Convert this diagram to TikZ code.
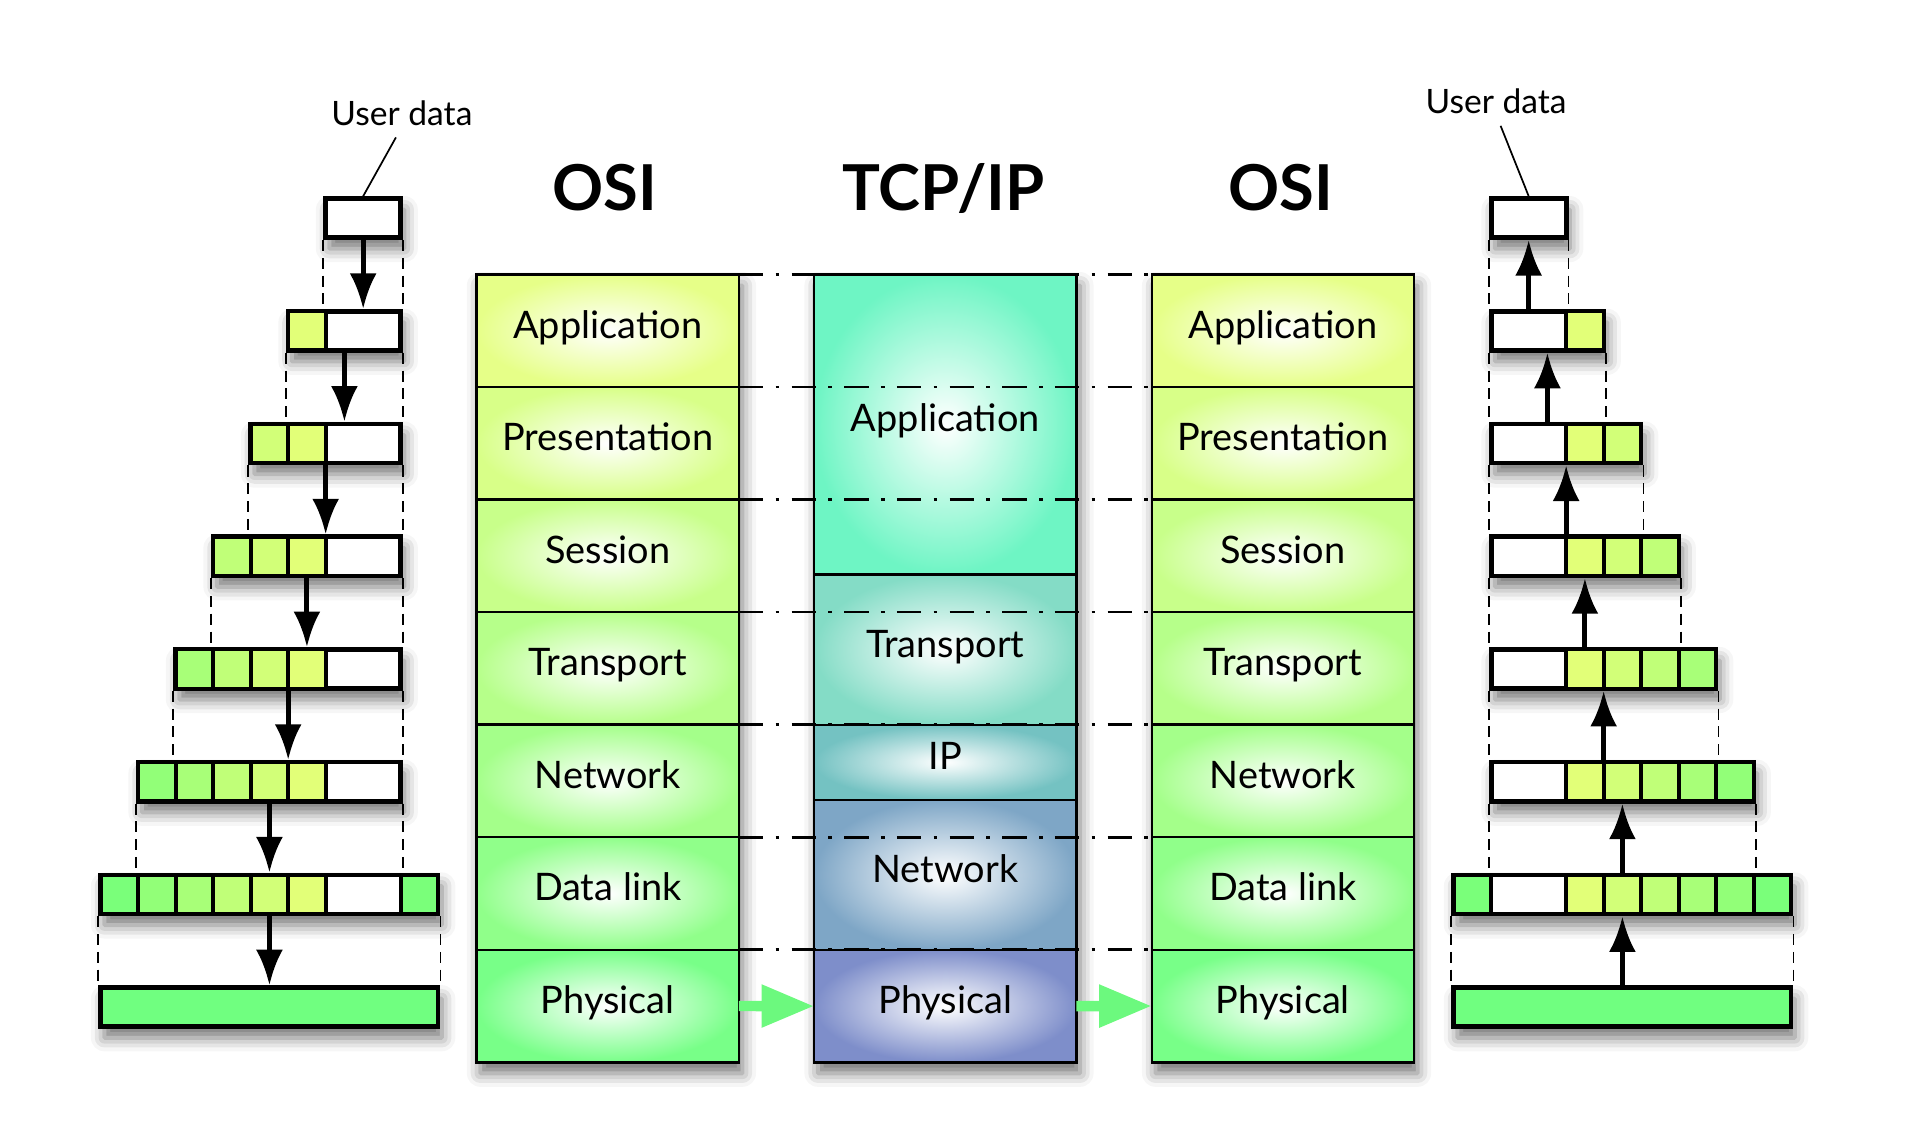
\documentclass[tikz,border=0pt]{standalone}
\usepackage{fontspec}
\setmainfont{Lato}
\usetikzlibrary{positioning,arrows.meta,shadows.blur}

\definecolor{osiA}{HTML}{E6FF88}
\definecolor{osiB}{HTML}{D8FF88}
\definecolor{osiC}{HTML}{C8FF8A}
\definecolor{osiD}{HTML}{B6FF8A}
\definecolor{osiE}{HTML}{A4FF8A}
\definecolor{osiF}{HTML}{90FF8A}
\definecolor{osiG}{HTML}{78FF88}
\definecolor{tcpA}{HTML}{6EF5C4}
\definecolor{tcpB}{HTML}{84DCC6}
\definecolor{tcpC}{HTML}{74C2C2}
\definecolor{tcpD}{HTML}{7EA6C6}
\definecolor{tcpE}{HTML}{7E8ECA}
\definecolor{hdr1}{HTML}{E2FF78}
\definecolor{hdr2}{HTML}{D2FF78}
\definecolor{hdr3}{HTML}{C0FF78}
\definecolor{hdr4}{HTML}{A8FF78}
\definecolor{hdr5}{HTML}{92FF78}
\definecolor{hdr6}{HTML}{7AFF7A}
\definecolor{physbar}{HTML}{70FF80}
\definecolor{wire}{HTML}{6CF97E}

\tikzset{
  softshadow/.style={blur shadow={shadow xshift=0.3mm,shadow yshift=-0.9mm,shadow blur radius=1.1mm,shadow opacity=55}},
  column/.style={fill=white,minimum width=21.4mm,minimum height=64.3mm,outer sep=0pt,softshadow},
  layer/.style={draw,line width=0.2mm,outer sep=0pt,minimum width=21.4mm,minimum height=9.186mm,inner color=white,
    font=\fontsize{8.8}{10}\selectfont,text height=2.2mm,text depth=1mm},
  title/.style={font=\fontsize{14.7}{17}\selectfont\bfseries,inner sep=0pt},
  udata/.style={font=\fontsize{7.8}{9}\selectfont,inner sep=0pt},
  lead/.style={line width=0.14mm,shorten <=1mm},
  pkt/.style={draw,line width=0.38mm,fill=white,minimum height=3.2mm,inner sep=0pt,softshadow},
  hcell/.style={draw,line width=0.32mm},
  guide/.style={line width=0.15mm,dash pattern=on 0.9mm off 0.55mm},
  pktarrow/.style={line width=0.4mm},
  level/.style={line width=0.22mm,dash pattern=on 2mm off 1mm on 0.3mm off 1mm},
  physarrow/.style={draw=wire,line width=0.85mm,-{Triangle[length=4.3mm,width=3.3mm,fill=wire]}}
}

\begin{document}
\begin{tikzpicture}[x=0.1mm,y=-0.1mm,>={Latex[length=2.9mm,width=2.2mm]}]
  \useasboundingbox (0,0) rectangle (1567,929.5);

  % titles
  \node[title] (osiL) at (493.5,153.5) {OSI};
  \node[title] (tcp) at (770,153.5) {TCP/IP};
  \node[title] (osiR) at (1045.5,153.5) {OSI};

  % column shadows
  \node[column] (lcol) at (496,545.5) {};
  \node[column] (tcol) at (771.5,545.5) {};
  \node[column] (rcol) at (1047,545.5) {};

  % sending side OSI
  \node[layer,outer color=osiA] (la1) at (496,269.9) {Application};
  \node[layer,outer color=osiB,below=0pt of la1] (la2) {Presentation};
  \node[layer,outer color=osiC,below=0pt of la2] (la3) {Session};
  \node[layer,outer color=osiD,below=0pt of la3] (la4) {Transport};
  \node[layer,outer color=osiE,below=0pt of la4] (la5) {Network};
  \node[layer,outer color=osiF,below=0pt of la5] (la6) {Data link};
  \node[layer,outer color=osiG,below=0pt of la6] (la7) {Physical};

  % TCP/IP
  \node[layer,outer color=tcpA,minimum height=24.5mm] (t1) at (771.5,346.5) {Application};
  \node[layer,outer color=tcpB,minimum height=12.25mm,below=0pt of t1] (t2) {Transport};
  \node[layer,outer color=tcpC,minimum height=6.12mm,below=0pt of t2] (t3) {IP};
  \node[layer,outer color=tcpD,minimum height=12.25mm,below=0pt of t3] (t4) {Network};
  \node[layer,outer color=tcpE,below=0pt of t4] (t5) {Physical};

  % receiving side OSI
  \node[layer,outer color=osiA] (ra1) at (1047,269.9) {Application};
  \node[layer,outer color=osiB,below=0pt of ra1] (ra2) {Presentation};
  \node[layer,outer color=osiC,below=0pt of ra2] (ra3) {Session};
  \node[layer,outer color=osiD,below=0pt of ra3] (ra4) {Transport};
  \node[layer,outer color=osiE,below=0pt of ra4] (ra5) {Network};
  \node[layer,outer color=osiF,below=0pt of ra5] (ra6) {Data link};
  \node[layer,outer color=osiG,below=0pt of ra6] (ra7) {Physical};

  % peer levels
  \draw[level] (la1.north east) -- (ra1.north west);
  \foreach \k in {1,...,6}
    \draw[level] (la\k.south east) -- (ra\k.south west);

  \draw[physarrow] (la7.east) -- (t5.west);
  \draw[physarrow] (t5.east) -- (ra7.west);

  % encapsulation, left
  \node[pkt,minimum width=6.12mm] (lp0) at (296.4,178) {};
  \node[pkt,minimum width=9.18mm] (lp1) at (281.1,270) {};
  \node[pkt,minimum width=12.24mm] (lp2) at (265.8,362) {};
  \node[pkt,minimum width=15.3mm] (lp3) at (250.5,454) {};
  \node[pkt,minimum width=18.36mm] (lp4) at (235.2,546) {};
  \node[pkt,minimum width=21.42mm] (lp5) at (219.9,638) {};
  \node[pkt,minimum width=27.54mm] (lp6) at (219.9,730) {};
  \node[pkt,minimum width=27.54mm,fill=physbar] (lp7) at (219.9,822) {};
  \foreach \i in {1,...,6}
    \foreach \j in {1,...,\i}
      \draw[hcell,fill=hdr\j] ({265.8-\j*30.6},{162+92*\i}) rectangle +(30.6,32);
  \draw[hcell,fill=hdr6] (327,714) rectangle +(30.6,32);

  \foreach \i [count=\n from 1] in {0,...,6} {
    \draw[guide] (lp\i.south west) -- (lp\i.south west |- lp\n.north);
    \draw[guide] (lp\i.south east) -- (lp\i.south east |- lp\n.north);
    \draw[pktarrow,->] (lp\i.south) -- (lp\i.south |- lp\n.north);
  }

  % encapsulation, right
  \node[pkt,minimum width=6.12mm] (rp0) at (1247.6,178) {};
  \node[pkt,minimum width=9.18mm] (rp1) at (1262.9,270) {};
  \node[pkt,minimum width=12.24mm] (rp2) at (1278.2,362) {};
  \node[pkt,minimum width=15.3mm] (rp3) at (1293.5,454) {};
  \node[pkt,minimum width=18.36mm] (rp4) at (1308.8,546) {};
  \node[pkt,minimum width=21.42mm] (rp5) at (1324.1,638) {};
  \node[pkt,minimum width=27.54mm] (rp6) at (1324.1,730) {};
  \node[pkt,minimum width=27.54mm,fill=physbar] (rp7) at (1324.1,822) {};
  \foreach \i in {1,...,6}
    \foreach \j in {1,...,\i}
      \draw[hcell,fill=hdr\j] ({1278.2+(\j-1)*30.6},{162+92*\i}) rectangle +(30.6,32);
  \draw[hcell,fill=hdr6] (1186.4,714) rectangle +(30.6,32);

  \foreach \i [count=\n from 1] in {0,...,6} {
    \draw[guide] (rp\i.south west) -- (rp\i.south west |- rp\n.north);
    \draw[guide] (rp\i.south east) -- (rp\i.south east |- rp\n.north);
    \draw[pktarrow,->] (rp\i.south |- rp\n.north) -- (rp\i.south);
  }

  % user data
  \node[udata] (ul) at (328,92.5) {User data};
  \node[udata] (ur) at (1221,82.5) {User data};
  \draw[lead] (ul.south) -- (lp0.north);
  \draw[lead] (ur.south) -- (rp0.north);
\end{tikzpicture}
\end{document}
